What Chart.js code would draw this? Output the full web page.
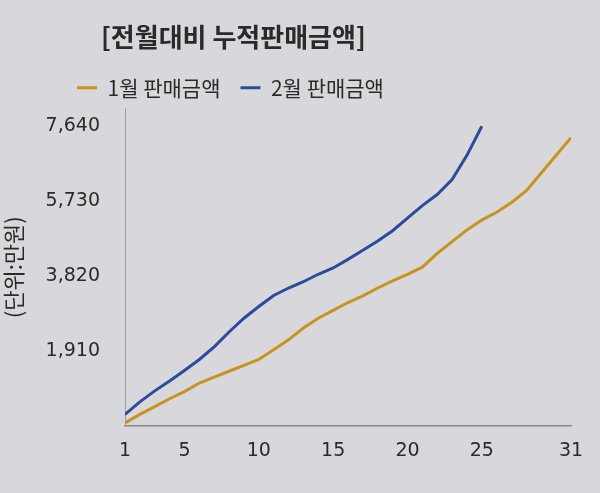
<!DOCTYPE html>
<html>
<head>
<meta charset="utf-8">
<script src="https://cdn.jsdelivr.net/npm/chart.js@4/dist/chart.umd.min.js"></script>
<style>
    html, body { margin: 0; padding: 0; background: #d8d8dc; }
    #wrap { width: 600px; height: 493px; }
</style>
</head>
<body>
<div id="wrap"><canvas id="chart"></canvas></div>
<script>
const TITLE = "[전월대비 누적판매금액]";
const Y_TITLE = "(단위:만원)";

const DAYS = [1, 2, 3, 4, 5, 6, 7, 8, 9, 10, 11, 12, 13, 14, 15, 16, 17, 18, 19, 20, 21, 22, 23, 24, 25, 26, 27, 28, 29, 30, 31];
const X_TICKS = [1, 5, 10, 15, 20, 25, 31];
const Y_TICKS = [1910, 3820, 5730, 7640];

const JAN_LABEL = "1월 판매금액";
const JAN_SALES = [80, 300, 500, 700, 880, 1100, 1250, 1400, 1550, 1700, 1950, 2200, 2500, 2750, 2950, 3150, 3320, 3520, 3700, 3870, 4050, 4400, 4700, 5000, 5250, 5450, 5700, 6000, 6450, 6900, 7350];

const FEB_LABEL = "2월 판매금액";
const FEB_SALES = [300, 620, 900, 1150, 1420, 1700, 2020, 2400, 2750, 3050, 3330, 3520, 3680, 3870, 4030, 4250, 4480, 4720, 4980, 5300, 5620, 5900, 6280, 6900, 7640];

const FONT = "'Noto Sans CJK KR', 'Noto Sans', sans-serif";
const TICK_FONT = "'DejaVu Sans', sans-serif";
const TEXT_COLOR = "#2a2a2a";

// the photo's title and legend are not centred; nudge their boxes after layout
const TITLE_LEFT = 101;
const LEGEND_LEFT = 57;
const nudgeBoxes = {
    id: "nudgeBoxes",
    afterLayout(chart) {
        if (chart.titleBlock) chart.titleBlock.left = TITLE_LEFT;
        if (chart.legend) chart.legend.left = LEGEND_LEFT;
    }
};

new Chart(document.getElementById("chart"), {
    type: "line",
    data: {
        labels: DAYS,
        datasets: [
            {
                label: JAN_LABEL,
                data: JAN_SALES,
                borderColor: "#c8931f",
                backgroundColor: "#c8931f",
                borderWidth: 3,
                pointRadius: 0,
                tension: 0
            },
            {
                label: FEB_LABEL,
                data: FEB_SALES,
                borderColor: "#2b4b9c",
                backgroundColor: "#2b4b9c",
                borderWidth: 3,
                pointRadius: 0,
                tension: 0
            }
        ]
    },
    options: {
        responsive: true,
        maintainAspectRatio: false,
        animation: false,
        layout: { padding: { top: 12, left: 0, right: 29, bottom: 18 } },
        plugins: {
            title: {
                display: true,
                text: TITLE,
                align: "start",
                color: TEXT_COLOR,
                font: { family: FONT, size: 26, weight: "bold" },
                padding: { top: 10, bottom: 4 }
            },
            tooltip: { enabled: false },
            legend: {
                position: "top",
                align: "start",
                labels: {
                    usePointStyle: true,
                    pointStyle: "line",
                    pointStyleWidth: 20,
                    padding: 20,
                    color: TEXT_COLOR,
                    font: { family: FONT, size: 21 }
                }
            }
        },
        scales: {
            x: {
                type: "linear",
                min: 1,
                max: 31,
                grid: { display: false, drawTicks: false },
                border: { display: true, color: "#8a8a8e", width: 1.5 },
                afterBuildTicks: scale => { scale.ticks = X_TICKS.map(value => ({ value })); },
                ticks: {
                    padding: 13,
                    maxRotation: 0,
                    color: TEXT_COLOR,
                    font: { family: TICK_FONT, size: 19 }
                }
            },
            y: {
                min: 0,
                max: 8100,
                grid: { display: false, drawTicks: false },
                border: { display: true, color: "#a0a0a4", width: 1 },
                afterBuildTicks: scale => { scale.ticks = Y_TICKS.map(value => ({ value })); },
                afterFit: scale => { scale.width = 125; },
                title: {
                    display: true,
                    text: Y_TITLE,
                    color: TEXT_COLOR,
                    font: { family: FONT, size: 22 },
                    padding: { top: 0, bottom: 0 }
                },
                ticks: {
                    padding: 25,
                    color: TEXT_COLOR,
                    font: { family: TICK_FONT, size: 19 },
                    callback: v => v.toLocaleString("en-US")
                }
            }
        }
    },
    plugins: [nudgeBoxes]
});
</script>
</body>
</html>
